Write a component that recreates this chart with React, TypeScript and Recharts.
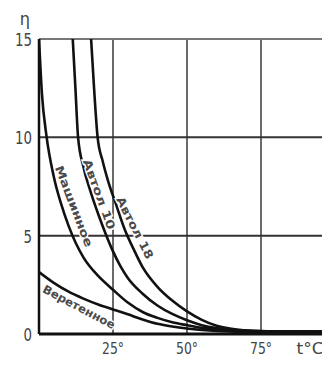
import React from 'react';
import { LineChart, Line, XAxis, YAxis, ReferenceLine, ReferenceDot } from 'recharts';

// Машинное
const mashT = [0, 1, 2.5, 5, 7.5, 10, 12.5, 15, 20, 25, 30, 35, 40, 45, 50, 55, 60, 70, 80, 96];
const mashEta = [15, 12.2, 10.1, 8.0, 6.6, 5.5, 4.6, 3.9, 2.95, 2.25, 1.6, 1.12, 0.82, 0.6, 0.45, 0.32, 0.24, 0.16, 0.13, 0.11];
// Автол 10
const avt10T = [11.4, 12.3, 13.2, 15, 17.5, 20, 22.5, 25, 27.5, 30, 35, 40, 45, 50, 55, 60, 65, 70, 80, 96];
const avt10Eta = [15, 12.5, 10, 8.5, 7.2, 6.1, 5.1, 4.2, 3.45, 2.85, 2.05, 1.45, 1.02, 0.7, 0.45, 0.3, 0.21, 0.16, 0.13, 0.12];
// Автол 18
const avt18T = [17.6, 18.6, 19.8, 21.5, 23.3, 26, 29, 32, 35, 40, 45, 50, 55, 60, 65, 70, 80, 96];
const avt18Eta = [15, 12.5, 10, 8.8, 7.8, 6.6, 5.3, 4.3, 3.4, 2.4, 1.7, 1.15, 0.72, 0.42, 0.26, 0.18, 0.14, 0.13];
// Веретенное
const verT = [0, 5, 10, 15, 20, 25, 30, 35, 40, 45, 50, 55, 60, 70, 80, 96];
const verEta = [3.15, 2.6, 2.15, 1.8, 1.5, 1.25, 1.0, 0.74, 0.52, 0.38, 0.28, 0.21, 0.16, 0.12, 0.11, 0.1];

const xTicks = [25, 50, 75, 87];
const xTickLabels = ['25°', '50°', '75°', 't°C'];
const yTicks = [0, 5, 10, 15];
const yTickLabels = ['0', '5', '10', '15'];
const vGrid = [25, 50, 75];

const labels = [
  { text: 'Машинное', t: 11.8, eta: 6.5, angle: 69, len: 86 },
  { text: 'Автол 10', t: 20.3, eta: 7.1, angle: 70, len: 74 },
  { text: 'Автол 18', t: 32.4, eta: 5.4, angle: 63, len: 68 },
  { text: 'Веретенное', t: 13.5, eta: 1.37, angle: 28, len: 80 },
];

const zip = (ts: number[], es: number[]) => ts.map((t, i) => ({ t, eta: es[i] }));
const series = [
  { name: 'Машинное', data: zip(mashT, mashEta) },
  { name: 'Автол 10', data: zip(avt10T, avt10Eta) },
  { name: 'Автол 18', data: zip(avt18T, avt18Eta) },
  { name: 'Веретенное', data: zip(verT, verEta) },
];

const NARROW = "'DejaVu Sans Condensed', 'Liberation Sans', sans-serif";

const XTick = (props: any) => {
  const { x, y, payload } = props;
  const i = xTicks.indexOf(payload.value);
  const last = i === xTicks.length - 1;
  const s = xTickLabels[i];
  return (
    <text x={x} y={y + 12} textAnchor={last ? 'start' : 'middle'} fontFamily={NARROW}
      fontSize={16} fill="#444" textLength={last ? 27 : 22} lengthAdjust="spacingAndGlyphs">
      {s}
    </text>
  );
};

const YTick = (props: any) => {
  const { x, y, payload } = props;
  const i = yTicks.indexOf(payload.value);
  const s = yTickLabels[i];
  return (
    <text x={x + 1} y={y + 7} textAnchor="end" fontFamily={NARROW} fontSize={18} fill="#444"
      textLength={s.length > 1 ? 17 : 8.5} lengthAdjust="spacingAndGlyphs">
      {s}
    </text>
  );
};

const makeLabel = (text: string, angle: number, len: number) => (p: any) => (
  <text x={p.cx} y={p.cy} transform={`rotate(${angle} ${p.cx} ${p.cy})`} textAnchor="middle"
    dominantBaseline="central" textLength={len} lengthAdjust="spacingAndGlyphs"
    fontFamily="'DejaVu Sans Condensed', 'DejaVu Sans', sans-serif" fontWeight="bold" fontSize={11.5}
    fill="#4a4a4a" stroke="#fff" strokeWidth={2.5} paintOrder="stroke">
    {text}
  </text>
);

const EtaLabel = (p: any) => (
  <text x={p.cx - 14} y={p.cy - 14} textAnchor="middle" fontFamily={NARROW} fontSize={18} fill="#444">η</text>
);

export default function App() {
  return (
    <div style={{ position: 'absolute', left: 0, top: 0, background: '#fff' }}>
      <LineChart width={322} height={366} margin={{ top: 39, right: 0, bottom: 0, left: 0 }}>
        <XAxis type="number" dataKey="t" domain={[0, 95.6]} ticks={xTicks} allowDataOverflow
          height={32} tickLine={false} axisLine={{ stroke: '#111', strokeWidth: 3 }} tick={<XTick />}
          interval={0} />
        <YAxis type="number" dataKey="eta" domain={[0, 15]} ticks={yTicks} allowDataOverflow
          width={39} tickLine={false} axisLine={{ stroke: '#111', strokeWidth: 2.5 }} tick={<YTick />}
          interval={0} />
        {vGrid.map((v) => (
          <ReferenceLine key={'v' + v} x={v} stroke="#6a6a6a" strokeWidth={2} />
        ))}
        <ReferenceLine y={5} stroke="#333" strokeWidth={2} />
        <ReferenceLine y={10} stroke="#333" strokeWidth={2} />
        <ReferenceLine y={15} stroke="#777" strokeWidth={2} />
        {series.map((s) => (
          <Line key={s.name} data={s.data} dataKey="eta" type="monotone" stroke="#111"
            strokeWidth={2.6} dot={false} isAnimationActive={false} />
        ))}
        {labels.map((l) => (
          <ReferenceDot key={l.text} x={l.t} y={l.eta} r={0} ifOverflow="visible"
            shape={makeLabel(l.text, l.angle, l.len)} />
        ))}
        <ReferenceDot x={0} y={15} r={0} ifOverflow="visible" shape={EtaLabel} />
      </LineChart>
    </div>
  );
}
